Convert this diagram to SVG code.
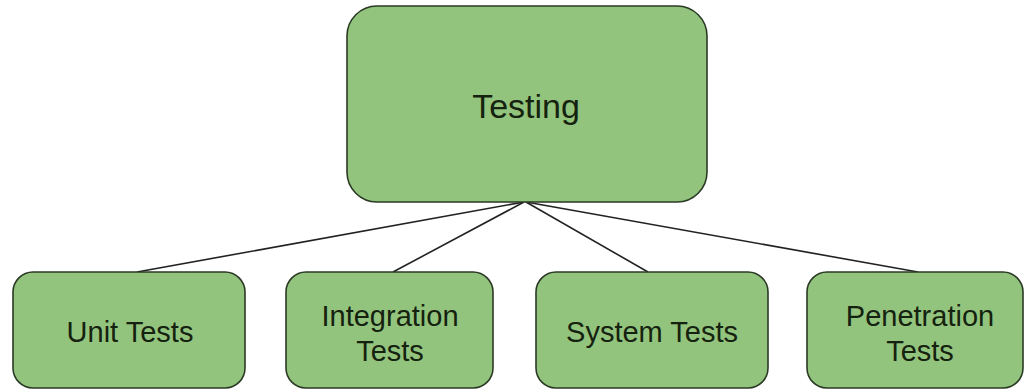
<svg xmlns="http://www.w3.org/2000/svg" width="1024" height="392" viewBox="0 0 1024 392">
<style>
.box{fill:#93c47d;stroke:#2b3a25;stroke-width:1.6}
.lbl{font-family:"Liberation Sans",Arial,sans-serif;fill:#15220f;text-anchor:middle}
.conn{stroke:#222;stroke-width:1.6;fill:none}
</style>
<rect width="1024" height="392" fill="#ffffff"/>
<g id="connectors">
<line class="conn" x1="524" y1="202" x2="137" y2="272"/>
<line class="conn" x1="524" y1="202" x2="393" y2="272"/>
<line class="conn" x1="526" y1="202" x2="648" y2="272"/>
<line class="conn" x1="526" y1="202" x2="918" y2="272"/>
</g>
<g id="testing">
<rect class="box" x="347" y="6" width="360" height="196" rx="30"/>
<text class="lbl" x="526" y="118" font-size="34">Testing</text>
</g>
<g id="unit">
<rect class="box" x="13" y="272" width="232" height="116" rx="20"/>
<text class="lbl" x="130" y="342" font-size="29">Unit Tests</text>
</g>
<g id="integration">
<rect class="box" x="286" y="272" width="207" height="116" rx="20"/>
<text class="lbl" x="390" y="326" font-size="29">Integration</text>
<text class="lbl" x="390" y="361" font-size="29">Tests</text>
</g>
<g id="system">
<rect class="box" x="536" y="272" width="232" height="116" rx="20"/>
<text class="lbl" x="652" y="342" font-size="29">System Tests</text>
</g>
<g id="penetration">
<rect class="box" x="807" y="272" width="216" height="116" rx="20"/>
<text class="lbl" x="920" y="326" font-size="29">Penetration</text>
<text class="lbl" x="920" y="361" font-size="29">Tests</text>
</g>
</svg>
